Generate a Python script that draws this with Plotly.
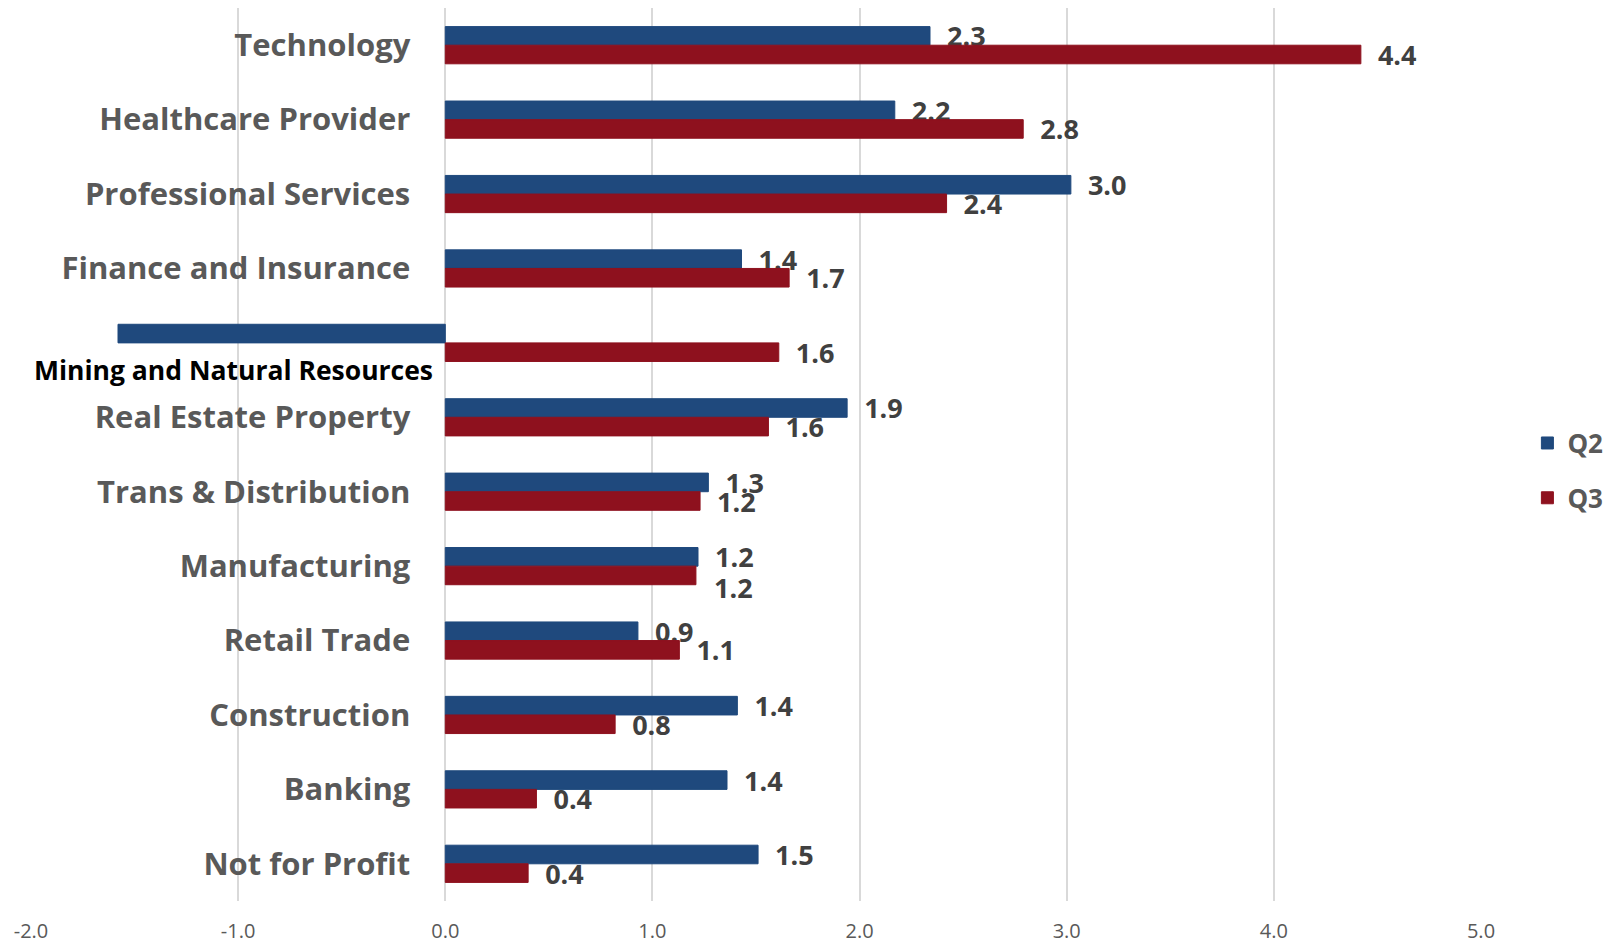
import plotly.graph_objects as go

# Industry categories, top to bottom
categories = [
    "Technology",
    "Healthcare Provider",
    "Professional Services",
    "Finance and Insurance",
    "Mining and Natural Resources",
    "Real Estate Property",
    "Trans & Distribution",
    "Manufacturing",
    "Retail Trade",
    "Construction",
    "Banking",
    "Not for Profit",
]

q2_values = [2.34, 2.17, 3.02, 1.43, -1.58, 1.94, 1.27, 1.22, 0.93, 1.41, 1.36, 1.51]
q3_values = [4.42, 2.79, 2.42, 1.66, 1.61, 1.56, 1.23, 1.21, 1.13, 0.82, 0.44, 0.40]

x_ticks = [-2, -1, 0, 1, 2, 3, 4, 5]
x_tick_labels = ["-2.0", "-1.0", "0.0", "1.0", "2.0", "3.0", "4.0", "5.0"]

# The mining category is labelled separately, next to its negative bar
special_category = "Mining and Natural Resources"
# Q3 label that is nudged down so it clears the Q2 label above it
nudged_q3_category = "Manufacturing"

Q2_COLOR = "#1F497D"
Q3_COLOR = "#8E111E"
GRAY = "#595959"
LABEL_COLOR = "#404040"
PAD = "\u00a0\u00a0"
LABEL_FONT = dict(family="Open Sans", size=27, color=LABEL_COLOR, weight="bold")


def bar_labels(values, skip=()):
    out = []
    for cat, v in zip(categories, values):
        if cat in skip or v < 0:
            out.append("")
        else:
            out.append(f"{PAD}{v:.1f}")
    return out


fig = go.Figure()

for name, vals, color, skip in [
    ("Q2", q2_values, Q2_COLOR, ()),
    ("Q3", q3_values, Q3_COLOR, (nudged_q3_category,)),
]:
    fig.add_trace(
        go.Bar(
            name=name,
            y=categories,
            x=vals,
            orientation="h",
            marker=dict(color=color, line=dict(color=color, width=1)),
            text=bar_labels(vals, skip=skip),
            textposition="outside",
            constraintext="none",
            cliponaxis=False,
            textfont=LABEL_FONT,
            legendgroup=name,
            hoverinfo="x+y+name",
        )
    )

tick_text = ["" if c == special_category else c for c in categories]

fig.update_layout(
    width=1617,
    height=943,
    barmode="group",
    bargap=0.5,
    bargroupgap=0,
    plot_bgcolor="white",
    paper_bgcolor="white",
    margin=dict(l=31, r=136, t=8, b=42, autoexpand=False),
    xaxis=dict(
        range=[-2, 5],
        tickvals=x_ticks,
        ticktext=x_tick_labels,
        showgrid=True,
        gridcolor="#D9D9D9",
        gridwidth=1.5,
        zeroline=True,
        zerolinecolor="#D9D9D9",
        zerolinewidth=1.5,
        showline=False,
        ticks="",
        automargin=False,
        ticklabelstandoff=16,
        tickfont=dict(family="Open Sans", size=20, color=GRAY),
        fixedrange=True,
    ),
    yaxis=dict(
        type="category",
        categoryorder="array",
        categoryarray=categories,
        range=[len(categories) - 0.5, -0.5],
        tickvals=categories,
        ticktext=tick_text,
        anchor="free",
        position=2 / 7,
        automargin=False,
        showgrid=False,
        zeroline=False,
        showline=False,
        ticks="",
        ticklabelstandoff=35,
        tickfont=dict(family="Open Sans", size=31, color=GRAY, weight="bold"),
    ),
    legend=dict(
        x=1.032,
        y=0.482,
        xanchor="left",
        yanchor="middle",
        traceorder="grouped",
        tracegroupgap=18,
        font=dict(family="Open Sans", size=26, color=GRAY, weight="bold"),
        itemwidth=30,
        bgcolor="rgba(0,0,0,0)",
    ),
    showlegend=True,
)

fig.add_annotation(
    x=-0.05,
    y=categories.index(special_category) + 0.36,
    xref="x",
    yref="y",
    text=special_category,
    showarrow=False,
    xanchor="right",
    yanchor="middle",
    font=dict(family="Open Sans", size=26.5, color="#000000", weight="bold"),
)

# Nudged Q3 value label
nudge_idx = categories.index(nudged_q3_category)
nudge_val = q3_values[nudge_idx]
fig.add_annotation(
    x=nudge_val,
    y=nudge_idx + 0.29,
    xref="x",
    yref="y",
    text=f"{PAD}{nudge_val:.1f}",
    showarrow=False,
    xanchor="left",
    yanchor="middle",
    xshift=2,
    font=LABEL_FONT,
)

fig.write_html("out.html")
